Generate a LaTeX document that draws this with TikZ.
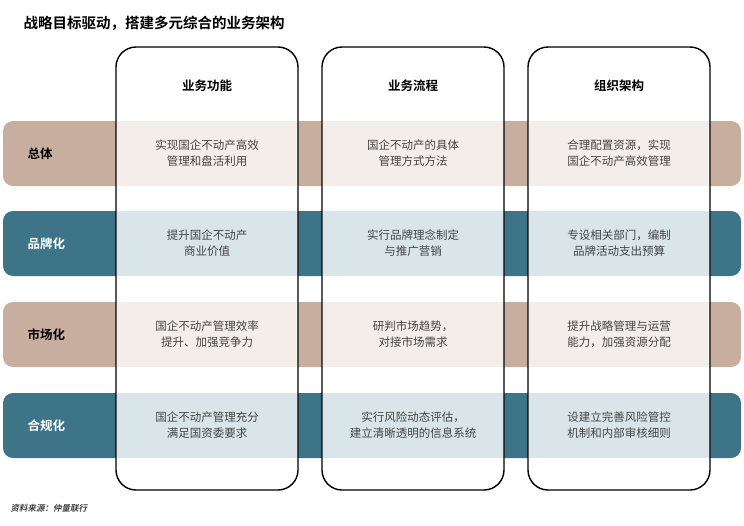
\documentclass[tikz,border=0pt]{standalone}
\usepackage{fontspec}
\setmainfont{Noto Sans CJK SC}
\newfontfamily\cjkbold{Noto Sans CJK SC Bold}
\newfontfamily\cjkslant[FakeSlant=0.2]{Noto Sans CJK SC Bold}
\definecolor{tandark}{HTML}{C8AE9E}
\definecolor{tanlight}{HTML}{F4EEEA}
\definecolor{tealdark}{HTML}{3E7487}
\definecolor{teallight}{HTML}{DAE5EA}
\definecolor{celltext}{HTML}{444444}
\begin{document}
\begin{tikzpicture}[x=1pt,y=-1pt,
  band/.style={rounded corners=10},
  cell/.style={inner sep=0pt, minimum width=181pt, minimum height=65pt, align=center, font=\fontsize{11.5}{16}\selectfont, text=celltext},
  rowlabel/.style={anchor=west, font=\cjkbold\fontsize{12.5}{14}\selectfont},
  header/.style={font=\cjkbold\fontsize{12.5}{14}\selectfont},
  column/.style={draw=black, line width=1.4pt, rounded corners=20}]
	\useasboundingbox (0,0) rectangle (744,525);
	
	\node[anchor=west, font=\cjkbold\fontsize{14.5}{16}\selectfont] (title) at (20,23) {战略目标驱动，搭建多元综合的业务架构};
	
	% row bands
	\fill[band, tandark] (3,121) rectangle (741,186);
	\fill[band, tealdark] (3,211) rectangle (741,276);
	\fill[band, tandark] (3,302) rectangle (741,367);
	\fill[band, tealdark] (3,393) rectangle (741,458);
	
	\node[rowlabel] (zongti) at (24,153.5) {总体};
	\node[rowlabel, text=white] (pinpai) at (24,243.5) {品牌化};
	\node[rowlabel] (shichang) at (24,334.5) {市场化};
	\node[rowlabel, text=white] (hegui) at (24,425.5) {合规化};
	
	% columns
	\fill[white, rounded corners=20] (116,47) rectangle (298,490);
	\fill[white, rounded corners=20] (322,47) rectangle (504,490);
	\fill[white, rounded corners=20] (528,47) rectangle (710,490);
	
	\node[header] (gongneng) at (207,86) {业务功能};
	\node[header] (liucheng) at (413,86) {业务流程};
	\node[header] (zuzhi) at (619,86) {组织架构};
	
	\node[cell, fill=tanlight] (c11) at (207,153.5) {实现国企不动产高效\\管理和盘活利用};
	\node[cell, fill=tanlight] (c12) at (413,153.5) {国企不动产的具体\\管理方式方法};
	\node[cell, fill=tanlight] (c13) at (619,153.5) {合理配置资源，实现\\国企不动产高效管理};
	
	\node[cell, fill=teallight] (c21) at (207,243.5) {提升国企不动产\\商业价值};
	\node[cell, fill=teallight] (c22) at (413,243.5) {实行品牌理念制定\\与推广营销};
	\node[cell, fill=teallight] (c23) at (619,243.5) {专设相关部门，编制\\品牌活动支出预算};
	
	\node[cell, fill=tanlight] (c31) at (207,334.5) {国企不动产管理效率\\提升、加强竞争力};
	\node[cell, fill=tanlight] (c32) at (413,334.5) {研判市场趋势，\\对接市场需求};
	\node[cell, fill=tanlight] (c33) at (619,334.5) {提升战略管理与运营\\能力，加强资源分配};
	
	\node[cell, fill=teallight] (c41) at (207,425.5) {国企不动产管理充分\\满足国资委要求};
	\node[cell, fill=teallight] (c42) at (413,425.5) {实行风险动态评估，\\建立清晰透明的信息系统};
	\node[cell, fill=teallight] (c43) at (619,425.5) {设建立完善风险管控\\机制和内部审核细则};
	
	\draw[column] (116,47) rectangle (298,490);
	\draw[column] (322,47) rectangle (504,490);
	\draw[column] (528,47) rectangle (710,490);
	
	\node[anchor=west, font=\cjkslant\fontsize{8.5}{10}\selectfont, text=black!75] (source) at (7,508) {资料来源：仲量联行};
\end{tikzpicture}
\end{document}
